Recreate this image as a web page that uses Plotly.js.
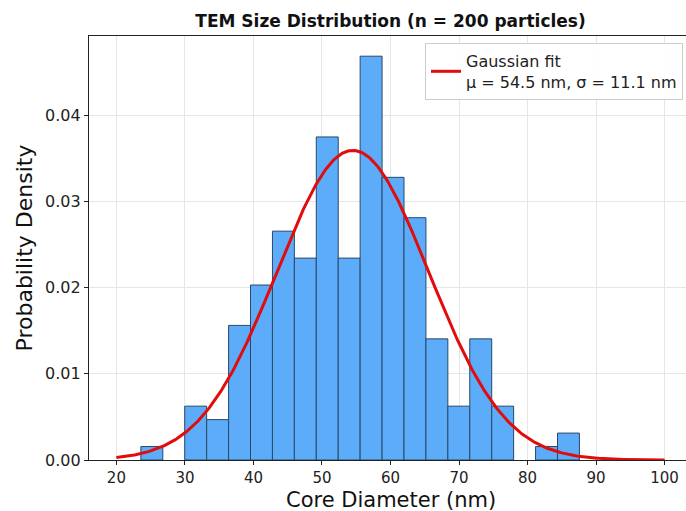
<!DOCTYPE html>
<html>
<head>
<meta charset="utf-8">
<script src="https://cdn.plot.ly/plotly-3.0.1.min.js"></script>
<style>
html, body { margin: 0; padding: 0; overflow: hidden; background: #ffffff; }
#chart { width: 694px; height: 511px; }
</style>
</head>
<body>
<div id="chart"></div>
<script>
// ---- data ----
const nParticles = 200;
const binStart = 23.57;   // left edge of first bin (nm)
const binWidth = 3.2;     // bin width (nm)
const binCounts = [1, 0, 4, 3, 10, 13, 17, 15, 24, 15, 30, 21, 18, 9, 4, 9, 4, 0, 1, 2];
const fitMu = 54.5;
const fitSigma = 11.1;
const fitRange = [20, 100];
const xTickVals = [20, 30, 40, 50, 60, 70, 80, 90, 100];
const yTickVals = [0.00, 0.01, 0.02, 0.03, 0.04];
const xTitle = 'Core Diameter (nm)';
const yTitle = 'Probability Density';

// ---- derived ----
const binCenters = binCounts.map((c, i) => binStart + binWidth * (i + 0.5));
const density = binCounts.map(c => c / (nParticles * binWidth));
const fitX = [];
const fitY = [];
const nPts = 400;
for (let i = 0; i <= nPts; i++) {
  const x = fitRange[0] + (fitRange[1] - fitRange[0]) * i / nPts;
  fitX.push(x);
  fitY.push(Math.exp(-0.5 * Math.pow((x - fitMu) / fitSigma, 2)) / (fitSigma * Math.sqrt(2 * Math.PI)));
}
const yMax = Math.max(...density) * 1.05;

const font = "DejaVu Sans, Verdana, sans-serif";

const traces = [
  {
    type: 'bar',
    x: binCenters,
    y: density,
    width: binCounts.map(() => binWidth),
    marker: {
      color: 'rgb(92,172,250)',
      line: { color: '#2a4866', width: binCounts.map(c => (c > 0 ? 1 : 0)) }
    },
    showlegend: false,
    hoverinfo: 'x+y'
  },
  {
    type: 'scatter',
    mode: 'lines',
    x: fitX,
    y: fitY,
    line: { color: 'rgb(226,12,12)', width: 3 },
    name: 'Gaussian fit<br>μ = ' + fitMu.toFixed(1) + ' nm, σ = ' + fitSigma.toFixed(1) + ' nm'
  }
];

const layout = {
  width: 694,
  height: 511,
  margin: { l: 89, r: 2, t: 36, b: 51 },
  paper_bgcolor: '#ffffff',
  plot_bgcolor: '#ffffff',
  font: { family: font, color: '#222222', size: 16 },
  title: {
    text: '<b>TEM Size Distribution (n = ' + nParticles + ' particles)</b>',
    font: { family: font, size: 17, color: '#111111' },
    x: 0.5, xref: 'paper', xanchor: 'center',
    y: 1 - 21 / 511, yref: 'container', yanchor: 'middle'
  },
  bargap: 0,
  xaxis: {
    range: [16, 104],
    tickvals: xTickVals,
    ticktext: xTickVals.map(String),
    ticks: 'outside', ticklen: 4, tickcolor: '#222', tickwidth: 1,
    showline: true, linecolor: '#222', linewidth: 1.2, mirror: true,
    showgrid: true, gridcolor: '#e6e6e6', gridwidth: 1,
    zeroline: false,
    tickfont: { family: font, size: 15, color: '#222' },
    automargin: false
  },
  yaxis: {
    range: [0, yMax],
    tickvals: yTickVals,
    ticktext: yTickVals.map(v => v.toFixed(2)),
    ticks: 'outside', ticklen: 4, tickcolor: '#222', tickwidth: 1,
    showline: true, linecolor: '#222', linewidth: 1.2, mirror: true,
    showgrid: true, gridcolor: '#e6e6e6', gridwidth: 1,
    zeroline: false,
    tickfont: { family: font, size: 16, color: '#222' },
    title: { text: yTitle, font: { family: font, size: 22, color: '#111' }, standoff: 6 },
    automargin: false
  },
  annotations: [
    {
      text: xTitle,
      xref: 'paper', yref: 'paper',
      x: 0.5, xanchor: 'center',
      y: 0, yanchor: 'top', yshift: -26.5,
      showarrow: false,
      borderpad: 0,
      font: { family: font, size: 21, color: '#111' }
    }
  ],
  legend: {
    x: (683 - 89) / 603, xanchor: 'right',
    y: (460 - 43) / 424, yanchor: 'top',
    bgcolor: 'rgba(255,255,255,0.9)',
    bordercolor: '#cccccc', borderwidth: 1,
    font: { family: font, size: 16, color: '#222' }
  }
};

Plotly.newPlot('chart', traces, layout, { displayModeBar: false, staticPlot: true });
</script>
</body>
</html>
